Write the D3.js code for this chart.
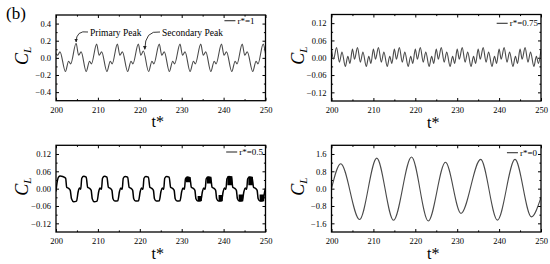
<!DOCTYPE html>
<html><head><meta charset="utf-8">
<script src="https://cdn.jsdelivr.net/npm/d3@7/dist/d3.min.js"></script>
<style>
html,body{margin:0;padding:0;background:#fff;}
svg{display:block;}
svg text{font-family:"Liberation Serif","DejaVu Serif",serif;}
</style></head>
<body>
<svg id="c" width="550" height="264"></svg>
<script>
// ---- data (local extrema) ----
const xTicks = [200, 210, 220, 230, 240, 250];
const yTicks1 = [-0.4, -0.2, 0.0, 0.2, 0.4];
const yTicks2 = [-0.12, -0.06, 0.00, 0.06, 0.12];
const yTicks3 = [-0.12, -0.06, 0.00, 0.06, 0.12];
const yTicks4 = [-1.6, -0.8, 0.0, 0.8, 1.6];
const labels = ["r*=1", "r*=0.75", "r*=0.5", "r*=0"];

// r* = 1
const t1 = [200.0,200.4,200.95,202.25,203.0,203.5,204.8,205.4,206.0,207.2,208.0,208.45,209.7,210.3,210.9,212.15,212.95,213.4,214.65,215.25,215.85,217.1,217.9,218.35,219.65,220.25,220.85,222.1,222.9,223.35,224.65,225.25,225.85,227.05,227.85,228.3,229.6,230.2,230.8,232.0,232.8,233.25,234.55,235.15,235.75,236.95,237.75,238.2,239.5,240.1,240.7,241.95,242.75,243.2,244.45,245.05,245.65,246.95,247.75,248.2,249.45,250.0];
const cl1 = [0.05,0.03,0.07,-0.16,-0.04,-0.07,0.17,0.03,0.07,-0.16,-0.04,-0.07,0.16,0.03,0.07,-0.16,-0.04,-0.07,0.16,0.03,0.07,-0.16,-0.04,-0.07,0.16,0.03,0.08,-0.16,-0.04,-0.07,0.16,0.03,0.07,-0.16,-0.04,-0.07,0.16,0.03,0.07,-0.16,-0.04,-0.07,0.16,0.03,0.07,-0.16,-0.04,-0.07,0.16,0.03,0.07,-0.16,-0.04,-0.07,0.16,0.03,0.07,-0.16,-0.04,-0.07,0.16,0.05];

// r* = 0.75
const t2 = [200.0,200.5,201.2,201.9,202.5,203.3,203.9,204.4,205.0,205.5,206.2,206.9,207.5,208.3,208.9,209.4,210.0,210.5,211.2,211.9,212.5,213.3,213.9,214.4,215.0,215.5,216.2,216.9,217.5,218.3,218.9,219.4,220.0,220.5,221.2,221.9,222.5,223.3,223.9,224.4,225.0,225.5,226.2,226.9,227.5,228.3,228.9,229.4,230.0,230.5,231.2,231.9,232.5,233.3,233.9,234.4,235.0,235.5,236.2,236.9,237.5,238.3,238.9,239.4,240.0,240.5,241.2,241.9,242.5,243.3,243.9,244.4,245.0,245.5,246.2,246.9,247.5,248.3,248.9,249.4,250.0];
const cl2 = [0.03,-0.005,0.035,-0.015,0.02,-0.03,0.005,-0.02,0.03,-0.005,0.035,-0.015,0.02,-0.03,0.005,-0.02,0.03,-0.005,0.035,-0.015,0.02,-0.03,0.005,-0.02,0.03,-0.005,0.035,-0.015,0.02,-0.03,0.005,-0.02,0.03,-0.005,0.035,-0.015,0.02,-0.03,0.005,-0.02,0.03,-0.005,0.035,-0.015,0.02,-0.03,0.005,-0.02,0.03,-0.005,0.035,-0.015,0.02,-0.03,0.005,-0.02,0.03,-0.005,0.035,-0.015,0.02,-0.03,0.005,-0.02,0.03,-0.005,0.035,-0.015,0.02,-0.03,0.005,-0.02,0.03,-0.005,0.035,-0.015,0.02,-0.03,0.005,-0.02,0.03];

// r* = 0.5
const t3 = [200.0,200.15,200.6,201.0,201.6,202.3,202.55,203.0,203.4,203.7,204.2,204.9,205.3,205.6,205.9,
            206.15,206.6,207.2,207.55,208.0,208.4,208.65,209.1,209.8,210.2,210.5,210.85,
            211.1,211.55,212.15,212.5,212.95,213.35,213.6,214.05,214.75,215.15,215.45,215.8,
            216.05,216.5,217.1,217.45,217.9,218.3,218.55,219.0,219.7,220.1,220.4,220.75,
            221.0,221.45,222.05,222.4,222.85,223.25,223.5,223.95,224.65,225.05,225.35,225.7,
            225.95,226.4,227.0,227.35,227.8,228.2,228.45,228.9,229.6,230.0,230.3,230.65,
            230.9,231.35,231.95,232.3,232.75,233.15,233.4,233.85,234.55,234.95,235.25,235.6,
            235.85,236.3,236.9,237.25,237.7,238.1,238.35,238.8,239.5,239.9,240.2,240.55,
            240.8,241.25,241.85,242.2,242.65,243.05,243.3,243.75,244.45,244.85,245.15,245.5,
            245.75,246.2,246.8,247.15,247.6,248.0,248.25,248.7,249.4,249.8,250.0];
const cl3 = [-0.01,0.01,0.04,0.044,0.042,0.036,0.005,0.001,-0.006,-0.035,-0.045,-0.043,-0.01,0.002,-0.002,
             0.036,0.043,0.04,0.005,0.001,-0.006,-0.035,-0.045,-0.043,-0.01,0.002,-0.002,
             0.036,0.043,0.04,0.005,0.001,-0.006,-0.035,-0.043,-0.042,-0.01,0.002,-0.002,
             0.036,0.042,0.04,0.005,0.001,-0.006,-0.035,-0.043,-0.042,-0.01,0.002,-0.002,
             0.036,0.042,0.04,0.005,0.001,-0.006,-0.035,-0.043,-0.042,-0.01,0.002,-0.002,
             0.036,0.042,0.04,0.005,0.001,-0.006,-0.035,-0.043,-0.042,-0.01,0.002,-0.002,
             0.034,0.04,0.038,0.005,0.001,-0.006,-0.035,-0.043,-0.042,-0.01,0.002,-0.002,
             0.034,0.04,0.038,0.005,0.001,-0.006,-0.035,-0.043,-0.042,-0.01,0.002,-0.002,
             0.034,0.042,0.04,0.005,0.001,-0.006,-0.035,-0.043,-0.042,-0.01,0.002,-0.002,
             0.034,0.04,0.038,0.005,0.001,-0.006,-0.035,-0.043,-0.042,-0.01,0.002];
// fast-oscillation envelopes (drawn filled): start, end, low, high
const band3 = [
  [231.0, 232.1, 0.022, 0.04],
  [233.8, 234.8, -0.043, -0.025],
  [236.0, 237.1, 0.018, 0.041],
  [238.8, 239.8, -0.044, -0.022],
  [240.9, 242.1, 0.012, 0.043],
  [243.6, 244.7, -0.044, -0.02],
  [245.9, 247.0, 0.012, 0.041],
  [248.6, 249.7, -0.044, -0.02]
];

// r* = 0
const t4 = [200.0,202.2,206.7,210.8,214.8,219.1,223.1,227.2,230.9,235.6,239.6,243.8,247.7,250.0];
const cl4 = [0.0,1.15,-1.42,1.41,-1.46,1.46,-1.49,1.22,-1.14,1.35,-1.45,1.35,-1.30,-0.4];

// ---- layout ----
const FONT = "'Liberation Serif','DejaVu Serif',serif";
const svg = d3.select("#c");
const panels = [
  {t:t1, v:cl1, dom:[-0.5,0.5], ticks:yTicks1, fmt:d3.format(".1f"), minor:0.1, x0:56, x1:265.5, y0:15, y1:100.7, lab:labels[0], ly:20.7, lx:-11, color:"#4a4a4a", w:1.1},
  {t:t2, v:cl2, dom:[-0.15,0.15], ticks:yTicks2, fmt:d3.format(".2f"), minor:0.03, x0:331.5, x1:541, y0:14.5, y1:101, lab:labels[1], ly:23.3, lx:-3, color:"#4a4a4a", w:1.1},
  {t:t3, v:cl3, dom:[-0.15,0.15], ticks:yTicks3, fmt:d3.format(".2f"), minor:0.03, x0:56, x1:265.5, y0:145.3, y1:232, lab:labels[2], ly:152, lx:-2.5, color:"#000", w:1.5, bands:band3},
  {t:t4, v:cl4, dom:[-2,2], ticks:yTicks4, fmt:d3.format(".1f"), minor:0.4, x0:331.5, x1:541, y0:145.3, y1:232, lab:labels[3], ly:152.7, lx:-4, color:"#4a4a4a", w:1.1}
];

panels.forEach((p,i) => {
  const x = d3.scaleLinear().domain([200,250]).range([p.x0,p.x1]);
  const y = d3.scaleLinear().domain(p.dom).range([p.y1,p.y0]);
  const g = svg.append("g");
  const fs = "8.5px";
  const xMinor = d3.range(205, 250, 10);
  const ax = (sel, axis) => { sel.call(axis); sel.attr("font-family",FONT); sel.select(".domain").remove(); sel.selectAll("line").attr("stroke","#000").attr("stroke-width",1); sel.selectAll("text").attr("font-family",FONT).attr("font-size",fs).attr("fill","#000"); };
  g.append("g").attr("transform",`translate(0,${p.y1})`).call(s=>ax(s, d3.axisBottom(x).tickValues(xTicks).tickSize(-3).tickPadding(6).tickFormat(d3.format("d"))));
  g.append("g").attr("transform",`translate(0,${p.y1})`).call(s=>ax(s, d3.axisBottom(x).tickValues(xMinor).tickSize(-1.6).tickFormat("")));
  g.append("g").attr("transform",`translate(0,${p.y0})`).call(s=>ax(s, d3.axisTop(x).tickValues(xTicks).tickSize(-3).tickFormat("")));
  g.append("g").attr("transform",`translate(0,${p.y0})`).call(s=>ax(s, d3.axisTop(x).tickValues(xMinor).tickSize(-1.6).tickFormat("")));
  const yMinor = p.ticks.slice(0,-1).map((d,k)=> (d + p.ticks[k+1])/2).concat([p.ticks[0]-p.minor, p.ticks[p.ticks.length-1]+p.minor]).filter(d=>d>p.dom[0]&&d<p.dom[1]);
  g.append("g").attr("transform",`translate(${p.x0},0)`).call(s=>ax(s, d3.axisLeft(y).tickValues(p.ticks).tickSize(-3).tickPadding(5).tickFormat(p.fmt)));
  g.append("g").attr("transform",`translate(${p.x0},0)`).call(s=>ax(s, d3.axisLeft(y).tickValues(yMinor).tickSize(-1.6).tickFormat("")));
  g.append("g").attr("transform",`translate(${p.x1},0)`).call(s=>ax(s, d3.axisRight(y).tickValues(p.ticks).tickSize(-3).tickFormat("")));
  g.append("g").attr("transform",`translate(${p.x1},0)`).call(s=>ax(s, d3.axisRight(y).tickValues(yMinor).tickSize(-1.6).tickFormat("")));

  const data = p.t.map((t,k)=>[t,p.v[k]]);
  const clipId = "clip"+i;
  svg.append("clipPath").attr("id",clipId).append("rect").attr("x",p.x0).attr("y",p.y0).attr("width",p.x1-p.x0).attr("height",p.y1-p.y0);
  const pg = g.append("g").attr("clip-path",`url(#${clipId})`);
  pg.append("path").datum(data)
    .attr("d", d3.line().x(d=>x(d[0])).y(d=>y(d[1])).curve(d3.curveMonotoneX))
    .attr("fill","none").attr("stroke",p.color).attr("stroke-width",p.w).attr("stroke-linejoin","round");
  if (p.bands) {
    p.bands.forEach(b => {
      const pts = [[b[0],b[2],b[3]],[(b[0]+b[1])/2,b[2],b[3]],[b[1],b[2],b[3]]];
      pg.append("path").datum(pts)
        .attr("d", d3.area().x(d=>x(d[0])).y0(d=>y(d[1])).y1(d=>y(d[2])))
        .attr("fill","#000");
    });
  }
  g.append("rect").attr("x",p.x0).attr("y",p.y0).attr("width",p.x1-p.x0).attr("height",p.y1-p.y0)
    .attr("fill","none").attr("stroke","#000").attr("stroke-width",1.3);

  const lt = g.append("text").attr("x",p.x1+p.lx).attr("y",p.ly+3).attr("text-anchor","end")
    .attr("font-family",FONT).attr("font-size","9px").attr("fill","#000").text(p.lab);
  const tw = lt.node().getComputedTextLength();
  g.append("line").attr("x1",p.x1+p.lx-tw-13).attr("x2",p.x1+p.lx-tw-2).attr("y1",p.ly).attr("y2",p.ly)
    .attr("stroke","#333").attr("stroke-width",1.1);

  const cx = (p.x0+p.x1)/2;
  g.append("text").attr("x",cx-3).attr("y",p.y1+26.5).attr("text-anchor","middle")
    .attr("font-family",FONT).attr("font-size","16px").attr("fill","#000").text("t*");
  const cy = (p.y0+p.y1)/2;
  const ct = g.append("text").attr("transform",`translate(${p.x0-28},${cy-2}) rotate(-90)`).attr("text-anchor","middle")
    .attr("font-family",FONT).attr("font-size","18px").attr("font-style","italic").attr("fill","#000");
  ct.append("tspan").text("C");
  ct.append("tspan").attr("font-size","11px").attr("dy","3").text("L");
});

svg.append("text").attr("x",6).attr("y",19).attr("font-family",FONT).attr("font-size","17px").attr("fill","#000").text("(b)");

const xa = d3.scaleLinear().domain([200,250]).range([56,265.5]);
const ya = d3.scaleLinear().domain([-0.5,0.5]).range([100.7,15]);
const ann = [
  {text:"Primary Peak", tx:90, ty:36, t:204.8, v:0.185},
  {text:"Secondary Peak", tx:162, ty:36, t:221.2, v:0.1}
];
const defs = svg.append("defs");
defs.append("marker").attr("id","ah").attr("viewBox","0 0 10 10").attr("refX",9).attr("refY",5)
  .attr("markerWidth",4).attr("markerHeight",4).attr("orient","auto")
  .append("path").attr("d","M0,0L10,5L0,10z").attr("fill","#222");
ann.forEach(a => {
  svg.append("text").attr("x",a.tx).attr("y",a.ty).attr("font-family",FONT).attr("font-size","9.5px").attr("fill","#000").text(a.text);
  const ex = xa(a.t), ey = ya(a.v);
  const sx = a.tx-2, sy = a.ty-4;
  svg.append("path").attr("d",`M${sx},${sy} Q${ex},${sy-2} ${ex},${ey}`)
    .attr("fill","none").attr("stroke","#222").attr("stroke-width",0.9).attr("marker-end","url(#ah)");
});
</script>
</body></html>
